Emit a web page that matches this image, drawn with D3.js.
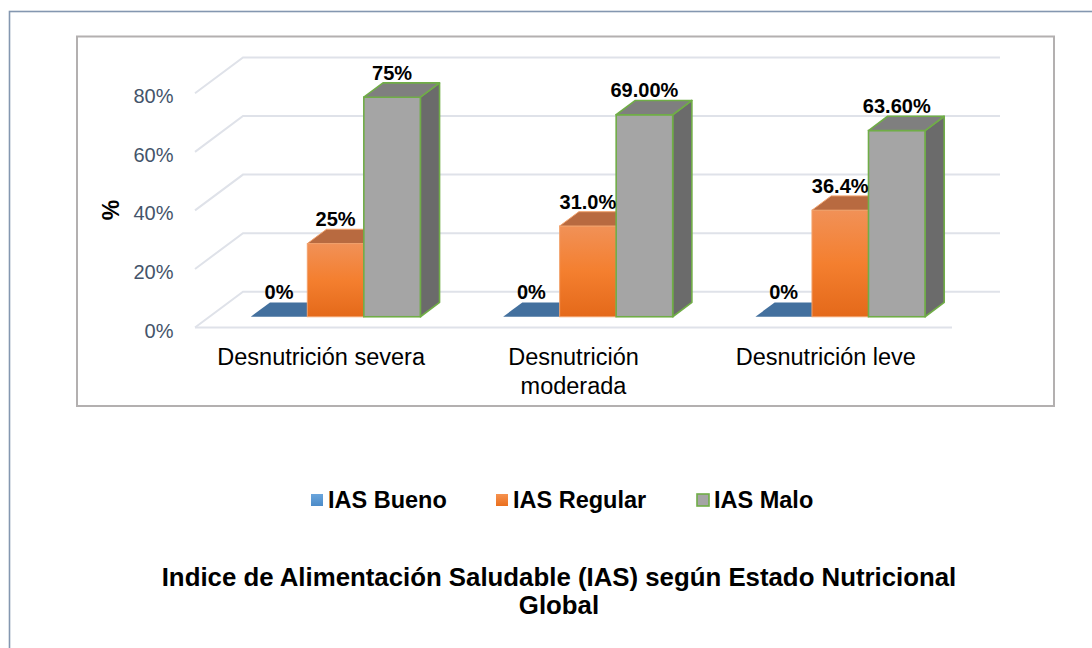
<!DOCTYPE html>
<html>
<head>
<meta charset="utf-8">
<script src="https://cdn.jsdelivr.net/npm/d3@7"></script>
<style>
  html, body { margin: 0; padding: 0; background: #ffffff; }
  svg { display: block; }
</style>
</head>
<body>
<svg id="chart" width="1092" height="648"></svg>
<script>
// ---------------- data ----------------
const categories = ["Desnutrición severa", "Desnutrición moderada", "Desnutrición leve"];
const categoryLines = [["Desnutrición severa"], ["Desnutrición", "moderada"], ["Desnutrición leve"]];
const seriesNames = ["IAS Bueno", "IAS Regular", "IAS Malo"];
const iasBueno   = [0, 0, 0];
const iasRegular = [25, 31.0, 36.4];
const iasMalo    = [75, 69.00, 63.60];
const labelsBueno   = ["0%", "0%", "0%"];
const labelsRegular = ["25%", "31.0%", "36.4%"];
const labelsMalo    = ["75%", "69.00%", "63.60%"];
const yTicks = [0, 20, 40, 60, 80];
const yTickLabels = ["0%", "20%", "40%", "60%", "80%"];
const yTitle = "%";
const chartTitle = ["Indice de Alimentación Saludable (IAS) según Estado Nutricional", "Global"];

// ---------------- setup ----------------
const svg = d3.select("#chart");
const defs = svg.append("defs");

const seriesValues = [iasBueno, iasRegular, iasMalo];
const seriesLabels = [labelsBueno, labelsRegular, labelsMalo];

const styles = [
  { front: "#4a7bb0", top: "#43709e", side: "#355b82", stroke: "none", sw: 0, legend: "url(#gBlueLeg)", legStroke: "none" },
  { front: "url(#gOrange)", top: "#b86a40", side: "#a85a2a", stroke: "#f2a26c", sw: 1, legend: "url(#gOrangeLeg)", legStroke: "none" },
  { front: "#a5a5a5", top: "#7f7f7f", side: "#6b6b6b", stroke: "#70ad47", sw: 1.6, legend: "#a5a5a5", legStroke: "#70ad47" }
];

function grad(id, stops) {
  const g = defs.append("linearGradient").attr("id", id)
    .attr("x1", 0).attr("y1", 0).attr("x2", 0).attr("y2", 1);
  stops.forEach(s => g.append("stop").attr("offset", s[0]).attr("stop-color", s[1]));
}
grad("gOrange", [[0, "#f19157"], [0.5, "#f47f2f"], [1, "#e4691a"]]);
grad("gOrangeLeg", [[0, "#f6924f"], [1, "#ea6f1d"]]);
grad("gBlueLeg", [[0, "#6aa5dc"], [1, "#4c8bc8"]]);

// frames
svg.append("rect").attr("x", 9.5).attr("y", 11.5).attr("width", 1200).attr("height", 800)
  .attr("fill", "#ffffff").attr("stroke", "#8497b0").attr("stroke-width", 1.6);
svg.append("rect").attr("x", 77).attr("y", 36.5).attr("width", 977).attr("height", 369.5)
  .attr("fill", "#ffffff").attr("stroke", "#b3b0b0").attr("stroke-width", 2);

// ---------------- scales ----------------
const frontX0 = 195, frontX1 = 952;
const depthDx = 48, depthDy = -35.8;
const f1 = 0.30, f2 = 0.70;

const y = d3.scaleLinear().domain([0, 80]).range([327.5, 93.3]);
const x = d3.scaleBand().domain(categories).range([frontX0, frontX1])
  .paddingInner(0.328).paddingOuter(0.164);
const xs = d3.scaleBand().domain(seriesNames).range([0, x.bandwidth()]);

// ---------------- gridlines (3D walls) ----------------
const grid = svg.append("g");
yTicks.forEach(t => {
  const yf = y(t), yb = y(t) + depthDy;
  grid.append("path")
    .attr("d", `M${frontX0},${yf}L${frontX0 + depthDx},${yb}L${frontX1 + depthDx},${yb}`)
    .attr("fill", "none").attr("stroke", "#dfe2e9").attr("stroke-width", 2);
});
grid.append("path")
  .attr("d", `M${frontX0},${y(0)}L${frontX1},${y(0)}`)
  .attr("fill", "none").attr("stroke", "#dfe2e9").attr("stroke-width", 2);

// y tick labels
const ax = svg.append("g").attr("font-family", "'Liberation Sans', Arial, sans-serif")
  .attr("font-size", 20).attr("fill", "#44546a");
yTicks.forEach((t, i) => {
  ax.append("text").attr("x", 173.5).attr("y", y(t) + 10)
    .attr("text-anchor", "end").text(yTickLabels[i]);
});

// y title
svg.append("text")
  .attr("transform", "translate(119,210) rotate(-90)")
  .attr("text-anchor", "middle")
  .attr("font-family", "'Liberation Sans', Arial, sans-serif")
  .attr("font-weight", "bold").attr("font-size", 23).attr("fill", "#000")
  .text(yTitle);

// ---------------- bars ----------------
const bars = svg.append("g");
const ddx = depthDx * (f2 - f1), ddy = depthDy * (f2 - f1);
const labelG = svg.append("g");

categories.forEach((cat, i) => {
  seriesNames.forEach((s, j) => {
    const v = seriesValues[j][i];
    const st = styles[j];
    const bx0 = x(cat) + xs(s) + depthDx * f1;
    const bx1 = bx0 + xs.bandwidth();
    const yb = y(0) + depthDy * f1;
    const yt = y(v) + depthDy * f1;
    // side
    bars.append("path")
      .attr("d", `M${bx1},${yt}L${bx1 + ddx},${yt + ddy}L${bx1 + ddx},${yb + ddy}L${bx1},${yb}Z`)
      .attr("fill", st.side).attr("stroke", st.stroke).attr("stroke-width", st.sw)
      .attr("stroke-linejoin", "round");
    // front
    if (yb - yt > 0.1) {
      bars.append("rect").attr("x", bx0).attr("y", yt)
        .attr("width", bx1 - bx0).attr("height", yb - yt)
        .attr("fill", st.front).attr("stroke", st.stroke).attr("stroke-width", st.sw);
    }
    // top
    bars.append("path")
      .attr("d", `M${bx0},${yt}L${bx1},${yt}L${bx1 + ddx},${yt + ddy}L${bx0 + ddx},${yt + ddy}Z`)
      .attr("fill", st.top).attr("stroke", st.stroke).attr("stroke-width", st.sw)
      .attr("stroke-linejoin", "round");
    // label
    labelG.append("text")
      .attr("x", (bx0 + bx1) / 2).attr("y", yt + ddy - 3)
      .attr("text-anchor", "middle")
      .attr("font-family", "'Liberation Sans', Arial, sans-serif")
      .attr("font-weight", "bold").attr("font-size", 20).attr("fill", "#000")
      .text(seriesLabels[j][i]);
  });
});

// category labels
const cl = svg.append("g").attr("font-family", "'Liberation Sans', Arial, sans-serif")
  .attr("font-size", 23.5).attr("fill", "#000");
categories.forEach((cat, i) => {
  const cx = x(cat) + x.bandwidth() / 2;
  categoryLines[i].forEach((ln, k) => {
    cl.append("text").attr("x", cx).attr("y", 365 + k * 29)
      .attr("text-anchor", "middle").text(ln);
  });
});

// ---------------- legend ----------------
const legendX = [311, 496, 697];
const lg = svg.append("g");
seriesNames.forEach((s, j) => {
  const st = styles[j];
  lg.append("rect").attr("x", legendX[j]).attr("y", 494).attr("width", 12).attr("height", 12)
    .attr("fill", st.legend).attr("stroke", st.legStroke).attr("stroke-width", st.legStroke === "none" ? 0 : 1.6);
  lg.append("text").attr("x", legendX[j] + 17).attr("y", 508)
    .attr("font-family", "'Liberation Sans', Arial, sans-serif")
    .attr("font-weight", "bold").attr("font-size", 23.5).attr("fill", "#000")
    .text(s);
});

// ---------------- title ----------------
const tg = svg.append("g").attr("font-family", "'Liberation Sans', Arial, sans-serif")
  .attr("font-weight", "bold").attr("font-size", 25.8).attr("fill", "#000");
chartTitle.forEach((t, k) => {
  tg.append("text").attr("x", 559).attr("y", 586 + k * 28).attr("text-anchor", "middle").text(t);
});
</script>
</body>
</html>
